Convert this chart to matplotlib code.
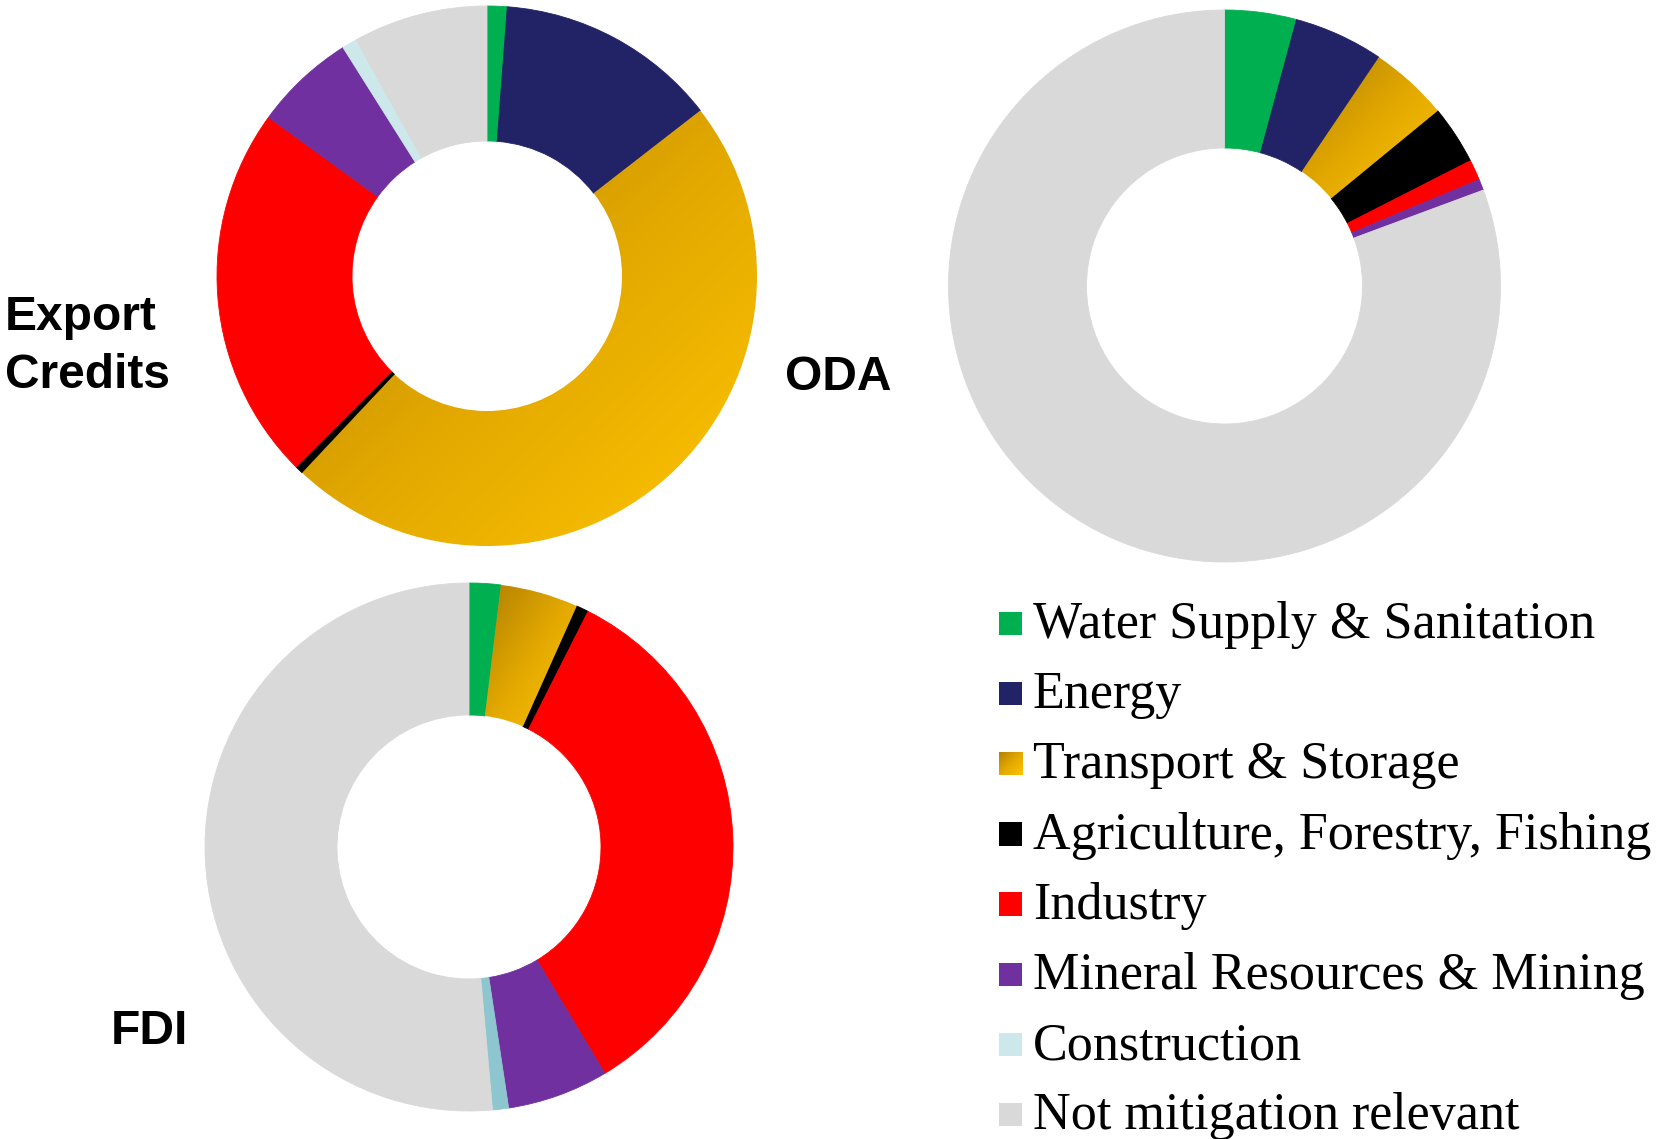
import numpy as np
import matplotlib.pyplot as plt
from matplotlib.colors import LinearSegmentedColormap
from matplotlib.patches import Rectangle

# sector shares (%) clockwise from 12 o'clock
sectors = [
    "Water Supply & Sanitation",
    "Energy",
    "Transport & Storage",
    "Agriculture, Forestry, Fishing",
    "Industry",
    "Mineral Resources & Mining",
    "Construction",
    "Not mitigation relevant",
]
export_credits = [1.2, 13.3, 47.5, 0.5, 22.5, 6.05, 0.9, 8.05]
oda = [4.2, 5.25, 4.6, 3.45, 1.2, 0.65, 0.0, 80.65]
fdi = [1.93, 0.0, 4.76, 0.76, 33.95, 6.2, 0.98, 51.42]

colors = ["#00B050", "#222266", "#E2A800", "#000000",
          "#FF0000", "#7030A0", "#CCE8EA", "#D9D9D9"]
fdi_colors = colors[:6] + ["#8EC6CF"] + colors[7:]
gold = LinearSegmentedColormap.from_list("gold", ["#B07F00", "#E2A800", "#FFC400"])
GRAD_IDX = 2

W, H = 1671, 1139
fig = plt.figure(figsize=(W / 100, H / 100), dpi=100)
ax = fig.add_axes([0, 0, 1, 1])


def gradient_fill(ax, patch):
    """Fill a patch with a diagonal gold gradient (top-left dark -> bottom-right bright)."""
    patch.set_facecolor("none")
    patch.set_edgecolor("none")
    bb = patch.get_path().get_extents(patch.get_patch_transform())
    n = 256
    gx, gy = np.meshgrid(np.linspace(0, 1, n), np.linspace(0, 1, n))
    grad = (gx + gy) / 2
    im = ax.imshow(grad, cmap=gold, vmin=0, vmax=1, origin="upper", aspect="auto",
                   extent=[bb.x0, bb.x1, bb.y0, bb.y1], interpolation="bilinear",
                   zorder=patch.get_zorder())
    im.set_clip_path(patch)


def donut(ax, values, cols, cx, cy, r):
    wedges, _ = ax.pie(values, colors=cols, center=(cx, H - cy), radius=r,
                       startangle=90, counterclock=False,
                       wedgeprops=dict(width=r * 0.5, linewidth=0.6))
    for w, v, c in zip(wedges, values, cols):
        w.set_edgecolor(c)
        if v == 0:
            w.set_visible(False)
    if values[GRAD_IDX] > 0:
        gradient_fill(ax, wedges[GRAD_IDX])


donut(ax, export_credits, colors, 487, 276, 270)
donut(ax, oda, colors, 1224.5, 286, 276)
donut(ax, fdi, fdi_colors, 469, 847, 264)

# chart labels
lab = dict(fontsize=34.5, fontweight="bold", family="Liberation Sans",
           ha="left", va="baseline")
ax.text(5, H - 330, "Export", **lab)
ax.text(5, H - 388, "Credits", **lab)
ax.text(785, H - 390, "ODA", **lab)
ax.text(111, H - 1044, "FDI", **lab)

# legend
for i, (name, col) in enumerate(zip(sectors, colors)):
    base = 638 + i * 70.2
    sq = Rectangle((998.5, H - base + 3), 23.5, 23.5, facecolor=col, edgecolor="none")
    ax.add_patch(sq)
    if i == GRAD_IDX:
        gradient_fill(ax, sq)
    ax.text(1033, H - base, name, fontsize=37.5, family="Liberation Serif",
            ha="left", va="baseline")

ax.set_xlim(0, W)
ax.set_ylim(0, H)
ax.set_aspect("equal")
ax.axis("off")

fig.savefig("out.png", dpi=100, facecolor="white")
